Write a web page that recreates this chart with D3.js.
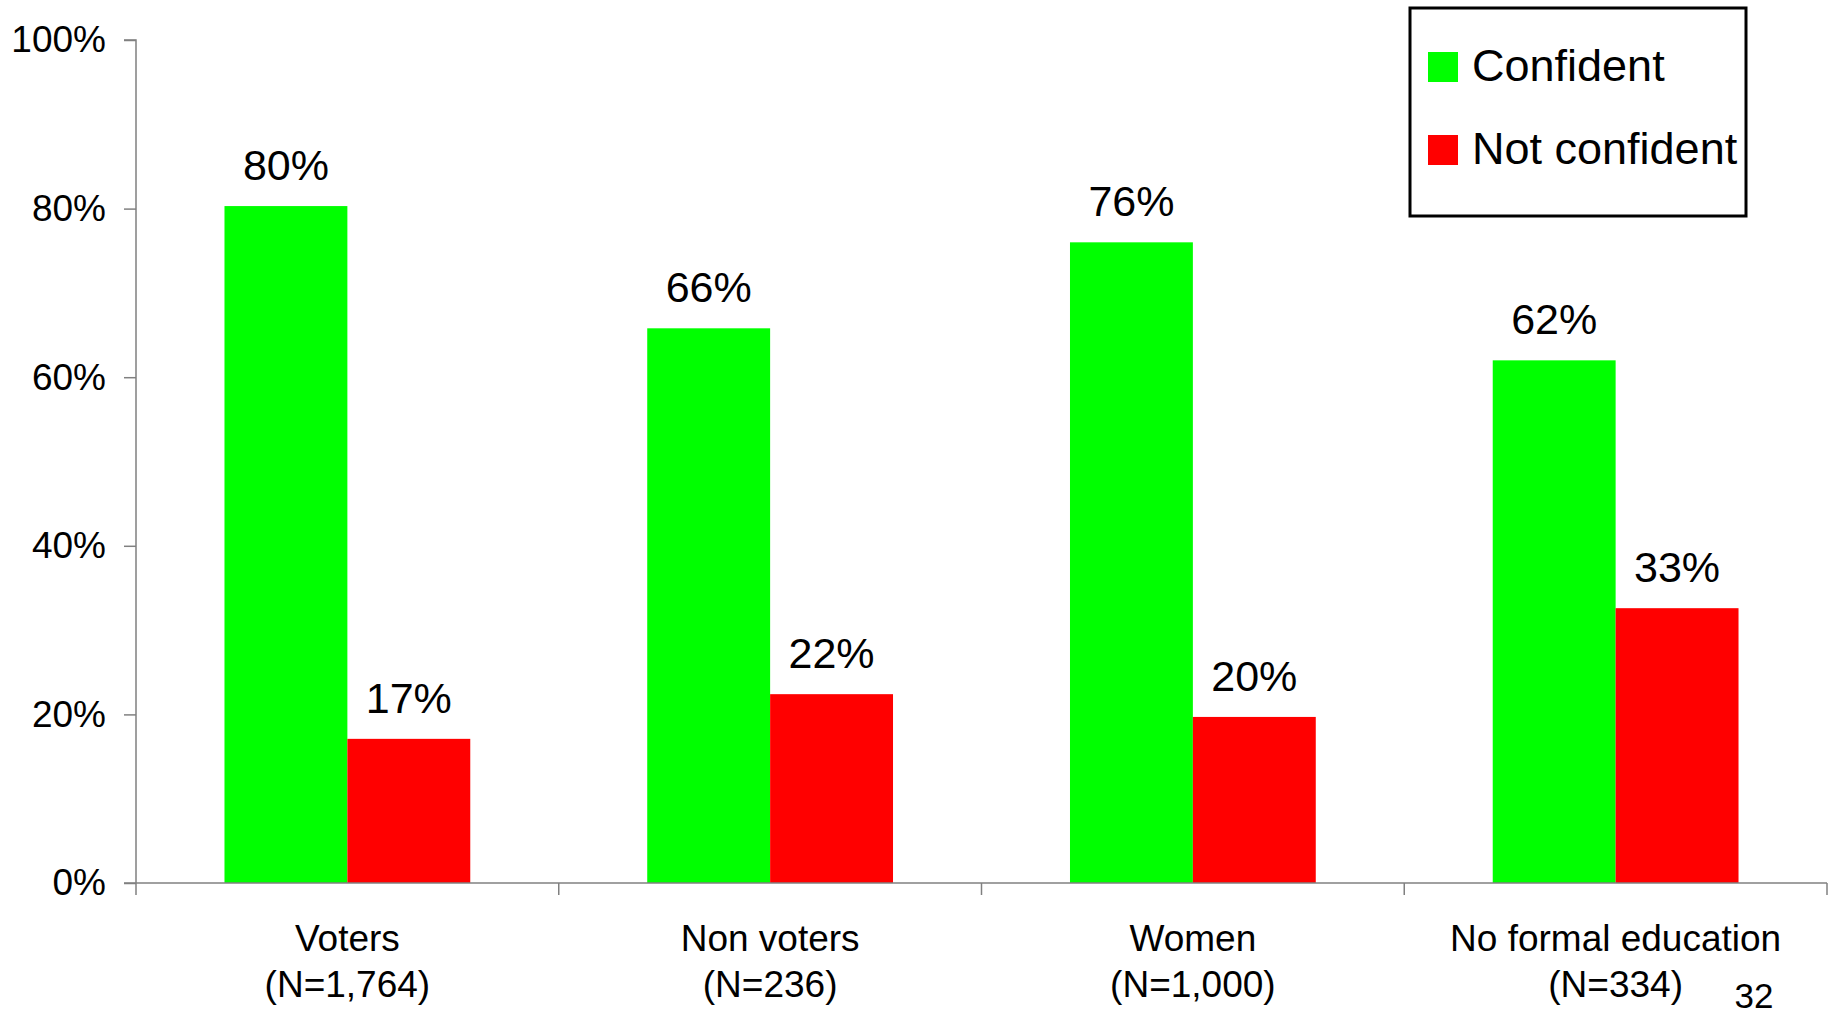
<!DOCTYPE html>
<html>
<head>
<meta charset="utf-8">
<script src="https://cdn.jsdelivr.net/npm/d3@7"></script>
<style>
  html, body { margin: 0; padding: 0; background: #fff; }
  svg { display: block; font-family: "Liberation Sans", Arial, Helvetica, sans-serif; }
</style>
</head>
<body>
<svg id="chart" width="1836" height="1016"></svg>
<script>
const categories = ["Voters", "Non voters", "Women", "No formal education"];
const sampleSizes = ["(N=1,764)", "(N=236)", "(N=1,000)", "(N=334)"];
const seriesNames = ["Confident", "Not confident"];
const confident = [80.3, 65.8, 76.0, 62.0];
const notConfident = [17.1, 22.4, 19.7, 32.6];
const seriesColors = ["#00ff00", "#ff0000"];
const yTicks = [0, 20, 40, 60, 80, 100];
const pageNumber = "32";

const svg = d3.select("#chart");
const margin = { left: 136, right: 1827, top: 40, bottom: 883 };

const x = d3.scaleBand().domain(categories).range([margin.left, margin.right]).paddingInner(0).paddingOuter(0);
const inner = d3.scaleBand().domain(seriesNames).range([0, x.bandwidth()]).paddingInner(0).paddingOuter(0.72);
const y = d3.scaleLinear().domain([0, 100]).range([margin.bottom, margin.top]);

const data = categories.map((c, i) => ({
  cat: c, n: sampleSizes[i],
  vals: [confident[i], notConfident[i]]
}));

// bars
const groups = svg.append("g").selectAll("g").data(data).join("g")
  .attr("transform", d => `translate(${x(d.cat)},0)`);

groups.selectAll("rect").data(d => d.vals.map((v, j) => ({ v, s: seriesNames[j], j })))
  .join("rect")
  .attr("x", d => inner(d.s))
  .attr("width", inner.bandwidth())
  .attr("y", d => y(d.v))
  .attr("height", d => y(0) - y(d.v))
  .attr("fill", d => seriesColors[d.j]);

groups.selectAll("text.val").data(d => d.vals.map((v, j) => ({ v, s: seriesNames[j], j })))
  .join("text")
  .attr("class", "val")
  .attr("x", d => inner(d.s) + inner.bandwidth() / 2)
  .attr("y", d => y(d.v) - 26)
  .attr("text-anchor", "middle")
  .attr("font-size", 43)
  .attr("fill", "#000")
  .text(d => d3.format(".0f")(d.v) + "%");

// y axis
const yAxis = d3.axisLeft(y).tickValues(yTicks).tickFormat(d => d + "%").tickSize(12).tickPadding(18);
const gy = svg.append("g").attr("transform", `translate(${margin.left},0)`).call(yAxis);
gy.select(".domain").attr("stroke", "#808080").attr("stroke-width", 1.5).attr("d", `M-12,${y(100)}H0V${y(0)}`);
gy.selectAll(".tick line").attr("stroke", "#808080").attr("stroke-width", 1.5);
gy.selectAll(".tick text").attr("font-size", 37).attr("fill", "#000")
  .attr("font-family", "'Liberation Sans', Arial, sans-serif");

// x axis
const boundaries = categories.map(c => x(c)).concat([x(categories[categories.length - 1]) + x.bandwidth()]);
const gx = svg.append("g");
gx.append("line")
  .attr("x1", margin.left - 12).attr("x2", margin.right)
  .attr("y1", y(0)).attr("y2", y(0))
  .attr("stroke", "#808080").attr("stroke-width", 1.5);
gx.selectAll("line.tk").data(boundaries).join("line")
  .attr("class", "tk")
  .attr("x1", d => d).attr("x2", d => d)
  .attr("y1", y(0)).attr("y2", y(0) + 12)
  .attr("stroke", "#808080").attr("stroke-width", 1.5);

const labels = gx.selectAll("text.cat").data(data).join("text")
  .attr("class", "cat")
  .attr("text-anchor", "middle")
  .attr("font-size", 37)
  .attr("fill", "#000");
labels.append("tspan").attr("x", d => x(d.cat) + x.bandwidth() / 2).attr("y", 951).text(d => d.cat);
labels.append("tspan").attr("x", d => x(d.cat) + x.bandwidth() / 2).attr("y", 997).text(d => d.n);

// page number
svg.append("text").attr("x", 1754).attr("y", 1008).attr("text-anchor", "middle")
  .attr("font-size", 35).attr("fill", "#000").text(pageNumber);

// legend
const lg = svg.append("g");
lg.append("rect").attr("x", 1410).attr("y", 8).attr("width", 336).attr("height", 208)
  .attr("fill", "#fff").attr("stroke", "#000").attr("stroke-width", 3);
const items = lg.selectAll("g.item").data(seriesNames).join("g").attr("class", "item")
  .attr("transform", (d, i) => `translate(1428,${52 + i * 83})`);
items.append("rect").attr("width", 30).attr("height", 30).attr("fill", (d, i) => seriesColors[i]);
items.append("text").attr("x", 44).attr("y", 29).attr("font-size", 45).attr("fill", "#000").text(d => d);
</script>
</body>
</html>
